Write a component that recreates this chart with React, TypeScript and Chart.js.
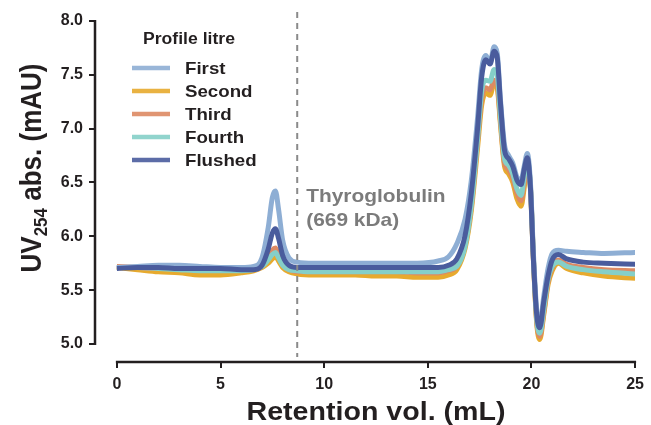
import React, { useEffect, useRef } from "react";
import { Chart, registerables } from "chart.js";

Chart.register(...registerables);

const volumes = [0, 1, 2, 3, 4, 5, 6, 6.6, 7.0, 7.3, 7.5, 7.65, 7.8, 8.0, 8.3, 8.7, 9.5, 10.5, 11.5, 12.5, 13.5, 14.5, 15.5, 16.0, 16.4, 16.8, 17.1, 17.4, 17.6, 17.8, 18.0, 18.2, 18.35, 18.5, 18.7, 18.9, 19.1, 19.3, 19.5, 19.65, 19.8, 19.95, 20.1, 20.25, 20.4, 20.6, 20.8, 21.0, 21.3, 21.7, 22.5, 23.5, 25];

const first = [5.71, 5.72, 5.73, 5.73, 5.72, 5.71, 5.71,
  5.72, 5.80, 6.08, 6.36, 6.42, 6.25, 5.96, 5.80, 5.76,
  5.75, 5.75, 5.75, 5.75, 5.75, 5.75, 5.77,
  5.81, 5.93, 6.16, 6.52, 7.10, 7.55, 7.68,
  7.61, 7.76, 7.70, 7.28, 6.85, 6.75,
  6.68, 6.55, 6.52, 6.65, 6.77, 6.50,
  5.82, 5.32, 5.18, 5.45, 5.70,
  5.84, 5.87, 5.86, 5.85, 5.84, 5.85];

const second = [5.71, 5.69, 5.67, 5.66, 5.64, 5.64, 5.66,
  5.68, 5.71, 5.75, 5.79, 5.81, 5.77, 5.71, 5.67, 5.65,
  5.64, 5.64, 5.64, 5.63, 5.63, 5.62, 5.62,
  5.64, 5.69, 5.89, 6.24, 6.82, 7.22, 7.33,
  7.31, 7.42, 7.38, 7.05, 6.65, 6.58,
  6.50, 6.35, 6.28, 6.45, 6.66, 6.45,
  5.76, 5.20, 5.04, 5.28, 5.55,
  5.68, 5.75, 5.70, 5.66, 5.63, 5.61];

const third = [5.72, 5.71, 5.70, 5.70, 5.69, 5.69, 5.69,
  5.69, 5.72, 5.80, 5.87, 5.89, 5.83, 5.74, 5.69, 5.67,
  5.67, 5.67, 5.67, 5.67, 5.67, 5.66, 5.66,
  5.68, 5.72, 5.92, 6.28, 6.88, 7.28, 7.38,
  7.36, 7.45, 7.41, 7.08, 6.68, 6.62,
  6.54, 6.40, 6.33, 6.50, 6.68, 6.46,
  5.77, 5.22, 5.07, 5.30, 5.58,
  5.71, 5.78, 5.74, 5.71, 5.69, 5.68];

const fourth = [5.71, 5.71, 5.70, 5.69, 5.68, 5.68, 5.68,
  5.69, 5.72, 5.78, 5.83, 5.85, 5.80, 5.73, 5.69, 5.68,
  5.67, 5.67, 5.67, 5.67, 5.67, 5.67, 5.67,
  5.69, 5.72, 5.91, 6.29, 6.90, 7.35, 7.45,
  7.44, 7.55, 7.50, 7.12, 6.72, 6.66,
  6.58, 6.44, 6.38, 6.55, 6.70, 6.47,
  5.78, 5.24, 5.10, 5.33, 5.60,
  5.72, 5.76, 5.72, 5.69, 5.67, 5.65];

const flushed = [5.70, 5.71, 5.71, 5.70, 5.70, 5.70, 5.69,
  5.69, 5.73, 5.88, 6.03, 6.07, 5.98, 5.82, 5.73, 5.71,
  5.71, 5.71, 5.71, 5.71, 5.71, 5.71, 5.71,
  5.73, 5.79, 6.01, 6.40, 7.00, 7.48, 7.64,
  7.60, 7.72, 7.66, 7.25, 6.80, 6.72,
  6.65, 6.52, 6.48, 6.62, 6.73, 6.45,
  5.76, 5.28, 5.15, 5.40, 5.63,
  5.78, 5.83, 5.79, 5.76, 5.75, 5.74];

const seriesLabels = ["First", "Second", "Third", "Fourth", "Flushed"];
const seriesColors = ["#8eaed4", "#e7aa2e", "#dd8a63", "#85cfc8", "#4a5c9d"];
const seriesData = [first, second, third, fourth, flushed];
const drawOrder = [1, 4, 3, 2, 0];

const xTicks = [0, 5, 10, 15, 20, 25];
const yTicks = [5.0, 5.5, 6.0, 6.5, 7.0, 7.5, 8.0];
const markerVolume = 8.7;
const markerText = ["Thyroglobulin", "(669 kDa)"];
const legendTitle = "Profile litre";
const xTitle = "Retention vol. (mL)";

const FONT = '"Liberation Sans", Arial, Helvetica, sans-serif';
const INK = "#231f20";
const STRETCH = 1.1;

const decorPlugin = {
  id: "decor",
  afterDraw(chart: any) {
    const ctx: CanvasRenderingContext2D = chart.ctx;
    const xs = chart.scales.x;
    const ys = chart.scales.y;
    const area = chart.chartArea;
    ctx.save();
    // axis lines
    ctx.strokeStyle = INK;
    ctx.lineWidth = 2.5;
    ctx.lineCap = "butt";
    ctx.beginPath();
    ctx.moveTo(area.left, ys.getPixelForValue(yTicks[yTicks.length - 1]) - 1);
    ctx.lineTo(area.left, ys.getPixelForValue(yTicks[0]) + 1);
    ctx.stroke();
    ctx.beginPath();
    ctx.moveTo(xs.getPixelForValue(xTicks[0]) - 1, area.bottom);
    ctx.lineTo(xs.getPixelForValue(xTicks[xTicks.length - 1]) + 1, area.bottom);
    ctx.stroke();

    // marker dashed line
    const mx = xs.getPixelForValue(markerVolume);
    ctx.strokeStyle = "#8a8a8a";
    ctx.lineWidth = 2;
    ctx.setLineDash([6, 5]);
    ctx.beginPath();
    ctx.moveTo(mx, 12);
    ctx.lineTo(mx, area.bottom - 5);
    ctx.stroke();
    ctx.setLineDash([]);

    // marker text
    ctx.fillStyle = "#7b7b7b";
    ctx.font = `bold 19px ${FONT}`;
    ctx.textBaseline = "alphabetic";
    ctx.textAlign = "left";
    markerText.forEach((t, i) => {
      ctx.save();
      ctx.translate(mx + 9, 202 + i * 24);
      ctx.scale(STRETCH, 1);
      ctx.fillText(t, 0, 0);
      ctx.restore();
    });

    // legend
    ctx.fillStyle = INK;
    ctx.font = `bold 16px ${FONT}`;
    ctx.save();
    ctx.translate(143, 44);
    ctx.scale(STRETCH, 1);
    ctx.fillText(legendTitle, 0, 0);
    ctx.restore();
    chart.data.datasets.forEach((ds: any, i: number) => {
      const y = 68 + i * 23;
      ctx.strokeStyle = ds.borderColor;
      ctx.globalAlpha = 0.9;
      ctx.lineWidth = 4.5;
      ctx.beginPath();
      ctx.moveTo(132, y);
      ctx.lineTo(170, y);
      ctx.stroke();
      ctx.globalAlpha = 1;
      ctx.fillStyle = INK;
      ctx.font = `bold 17px ${FONT}`;
      ctx.textBaseline = "middle";
      ctx.save();
      ctx.translate(185, y + 1);
      ctx.scale(STRETCH, 1);
      ctx.fillText(ds.label, 0, 0);
      ctx.restore();
    });

    // x title
    ctx.fillStyle = INK;
    ctx.font = `bold 26px ${FONT}`;
    ctx.textBaseline = "alphabetic";
    ctx.textAlign = "center";
    ctx.save();
    ctx.translate((xs.getPixelForValue(xTicks[0]) + xs.getPixelForValue(xTicks[xTicks.length - 1])) / 2, 420);
    ctx.scale(STRETCH, 1);
    ctx.fillText(xTitle, 0, 0);
    ctx.restore();

    // y title with subscript
    const big = `bold 26px ${FONT}`;
    const small = `bold 17px ${FONT}`;
    const p1 = "UV", p2 = "254", p3 = " abs. (mAU)";
    ctx.font = big;
    const w1 = ctx.measureText(p1).width;
    const w3 = ctx.measureText(p3).width;
    ctx.font = small;
    const w2 = ctx.measureText(p2).width;
    const total = w1 + w2 + w3;
    ctx.textAlign = "left";
    ctx.save();
    ctx.translate(41, 168);
    ctx.scale(STRETCH, 1);
    ctx.rotate(-Math.PI / 2);
    let cx = -total / 2;
    ctx.font = big;
    ctx.fillText(p1, cx, 0);
    cx += w1;
    ctx.font = small;
    ctx.fillText(p2, cx, 5);
    cx += w2;
    ctx.font = big;
    ctx.fillText(p3, cx, 0);
    ctx.restore();

    ctx.restore();
  },
};

export default function App() {
  const canvasRef = useRef<HTMLCanvasElement | null>(null);

  useEffect(() => {
    const canvas = canvasRef.current;
    if (!canvas) return;
    const datasets = seriesLabels.map((label, i) => ({
      label,
      data: volumes.map((v, j) => ({ x: v, y: seriesData[i][j] })),
      borderColor: seriesColors[i],
      backgroundColor: seriesColors[i],
      borderWidth: 5,
      pointRadius: 0,
      cubicInterpolationMode: "monotone" as const,
      order: drawOrder[i],
      fill: false,
    }));
    const chart = new Chart(canvas, {
      type: "line",
      data: { datasets },
      options: {
        animation: false,
        responsive: false,
        devicePixelRatio: 1,
        layout: { padding: { left: 0, right: 13, top: 21, bottom: 0 } },
        plugins: { legend: { display: false }, tooltip: { enabled: false } },
        scales: {
          x: {
            type: "linear",
            min: -1.055,
            max: 25,
            afterFit: (s: any) => { s.height = 63; },
            afterBuildTicks: (s: any) => { s.ticks = xTicks.map((v) => ({ value: v })); },
            border: { display: false },
            grid: { drawOnChartArea: false, drawTicks: true, tickLength: 6, color: INK, lineWidth: 2 },
            ticks: {
              color: INK,
              font: { family: FONT, weight: "bold", size: 16 },
              padding: 7,
              maxRotation: 0,
              callback: (v: any) => String(v),
            },
          },
          y: {
            type: "linear",
            min: 4.832,
            max: 8.0,
            afterFit: (s: any) => { s.width = 95; },
            afterBuildTicks: (s: any) => { s.ticks = yTicks.map((v) => ({ value: v })); },
            border: { display: false },
            grid: { drawOnChartArea: false, drawTicks: true, tickLength: 6, color: INK, lineWidth: 2 },
            ticks: {
              color: INK,
              font: { family: FONT, weight: "bold", size: 16 },
              padding: 6,
              callback: (v: any) => Number(v).toFixed(1),
            },
          },
        },
      },
      plugins: [decorPlugin],
    });
    return () => chart.destroy();
  }, []);

  return (
    <div style={{ position: "absolute", left: 0, top: 0, width: 651, height: 425, background: "#fff" }}>
      <canvas ref={canvasRef} width={651} height={425} style={{ display: "block" }} />
    </div>
  );
}
